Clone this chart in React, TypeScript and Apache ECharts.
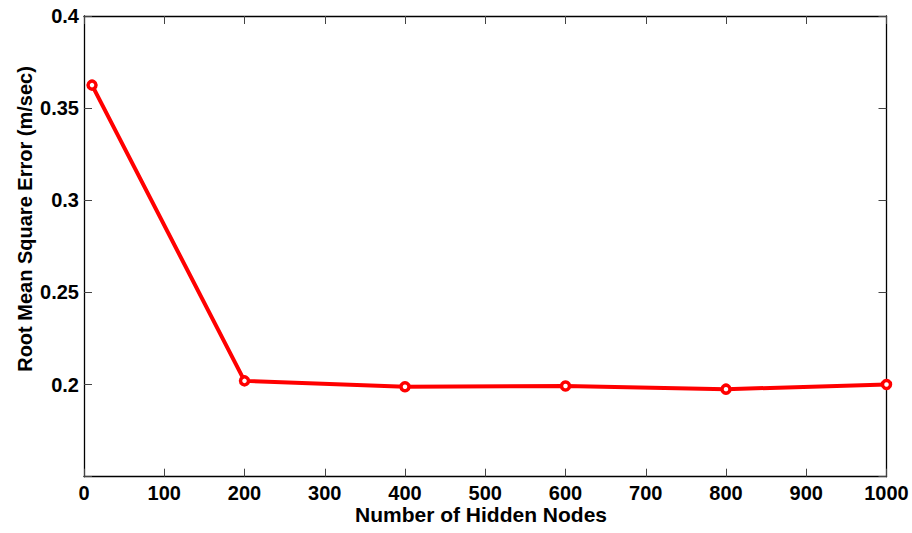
import React, { useEffect, useRef } from "react";
import * as echarts from "echarts";

const hiddenNodes = [10, 200, 400, 600, 800, 1000];
const rmse = [0.3625, 0.202, 0.1988, 0.1992, 0.1975, 0.2];
const xTicks = [0, 100, 200, 300, 400, 500, 600, 700, 800, 900, 1000];
const yTicks = [0.15, 0.2, 0.25, 0.3, 0.35, 0.4];
const xTitle = "Number of Hidden Nodes";
const yTitle = "Root Mean Square Error (m/sec)";

const FONT = "Liberation Sans, Arial, sans-serif";

export default function App() {
  const ref = useRef<HTMLDivElement>(null);
  useEffect(() => {
    if (!ref.current) return;
    const chart = echarts.init(ref.current, undefined, { renderer: "svg" });
    const baseAxisX = {
      type: "value" as const,
      min: xTicks[0],
      max: xTicks[xTicks.length - 1],
      interval: 100,
      splitLine: { show: false },
      axisLine: { show: true, onZero: false, lineStyle: { color: "#000", width: 1.3 } },
      axisTick: { show: true, inside: true, length: 8, lineStyle: { color: "#444", width: 1 } },
    };
    const baseAxisY = {
      type: "value" as const,
      min: yTicks[0],
      max: yTicks[yTicks.length - 1],
      interval: 0.05,
      splitLine: { show: false },
      axisLine: { show: true, onZero: false, lineStyle: { color: "#000", width: 1.3 } },
      axisTick: { show: true, inside: true, length: 8, lineStyle: { color: "#444", width: 1 } },
    };
    chart.setOption({
      animation: false,
      backgroundColor: "#fff",
      grid: { left: 84, right: 25.5, top: 16, bottom: 56.3, containLabel: false },
      xAxis: [
        {
          ...baseAxisX,
          position: "bottom",
          axisLabel: {
            show: true,
            margin: 6,
            color: "#000",
            fontSize: 20,
            fontWeight: "bold",
            fontFamily: FONT,
            formatter: (v: number) => String(v),
          },
        },
        {
          ...baseAxisX,
          position: "top",
          axisLabel: { show: false },
        },
      ],
      yAxis: [
        {
          ...baseAxisY,
          position: "left",
          axisLabel: {
            show: true,
            margin: 5,
            color: "#000",
            fontSize: 20,
            fontWeight: "bold",
            fontFamily: FONT,
            formatter: (v: number) =>
              Math.abs(v - yTicks[0]) < 1e-9 ? "" : String(Math.round(v * 100) / 100),
          },
        },
        {
          ...baseAxisY,
          position: "right",
          axisLabel: { show: false },
        },
      ],
      graphic: [
        {
          type: "text",
          x: 481,
          y: 514,
          style: {
            text: xTitle,
            fill: "#000",
            font: `bold 21px ${FONT}`,
            textAlign: "center",
            textVerticalAlign: "middle",
          },
        },
        {
          type: "text",
          x: 25,
          y: 219,
          rotation: Math.PI / 2,
          style: {
            text: yTitle,
            fill: "#000",
            font: `bold 20px ${FONT}`,
            textAlign: "center",
            textVerticalAlign: "middle",
          },
        },
      ],
      series: [
        {
          type: "line",
          xAxisIndex: 0,
          yAxisIndex: 0,
          data: hiddenNodes.map((x, i) => [x, rmse[i]]),
          symbol: "circle",
          symbolSize: 8,
          lineStyle: { color: "#ff0000", width: 4 },
          itemStyle: { color: "#ffffff", borderColor: "#ff0000", borderWidth: 3.5 },
        },
      ],
    });
    return () => chart.dispose();
  }, []);
  return (
    <div
      ref={ref}
      style={{ position: "fixed", left: 0, top: 0, width: 912, height: 533, background: "#fff" }}
    />
  );
}
